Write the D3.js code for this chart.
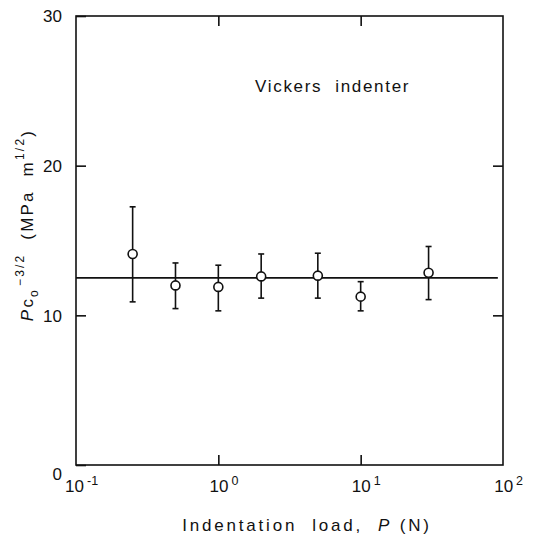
<!DOCTYPE html>
<html>
<head>
<meta charset="utf-8">
<script src="https://cdn.jsdelivr.net/npm/d3@7"></script>
<style>
  body { margin: 0; background: #fff; }
  svg { display: block; font-family: "Liberation Sans", Arial, sans-serif; }
  svg text { white-space: pre; }
</style>
</head>
<body>
<div id="chart"></div>
<script>
// data
const loads = [0.25, 0.5, 1, 2, 5, 10, 30];          // indentation load P (N)
const means = [14.1, 12.0, 11.9, 12.6, 12.65, 11.25, 12.85];
const upper = [17.25, 13.5, 13.35, 14.1, 14.15, 12.25, 14.6];
const lower = [10.9, 10.45, 10.3, 11.15, 11.15, 10.3, 11.05];
const fitLoads = [0.1, 92];
const fitValues = [12.5, 12.5];
const yTicks = [0, 10, 20, 30];
const xTicks = [0.1, 1, 10, 100];
const xExponents = ["-1", "0", "1", "2"];

const width = 541, height = 538;
const plotLeft = 76, plotRight = 503, plotTop = 16, plotBottom = 465;

const svg = d3.select("#chart").append("svg")
    .attr("width", width)
    .attr("height", height);

const x = d3.scaleLog().domain([0.1, 100]).range([plotLeft, plotRight]);
const y = d3.scaleLinear().domain([0, 30]).range([plotBottom, plotTop]);

// frame
svg.append("rect")
    .attr("x", plotLeft).attr("y", plotTop)
    .attr("width", plotRight - plotLeft).attr("height", plotBottom - plotTop)
    .attr("fill", "none").attr("stroke", "#111").attr("stroke-width", 1.6);

// left axis (ticks inward)
const yAxis = svg.append("g")
    .attr("transform", `translate(${plotLeft},0)`)
    .call(d3.axisLeft(y).tickValues(yTicks).tickSizeInner(-10).tickSizeOuter(0).tickPadding(14));
yAxis.select(".domain").remove();
yAxis.selectAll("line").attr("stroke", "#111").attr("stroke-width", 1.6);
yAxis.selectAll("text")
    .attr("font-size", 17).attr("fill", "#111")
    .attr("font-family", "Liberation Sans, Arial, sans-serif")
    .attr("dy", d => d === 0 ? "0.85em" : "0.35em");

// right axis
const yAxisR = svg.append("g")
    .attr("transform", `translate(${plotRight},0)`)
    .call(d3.axisRight(y).tickValues(yTicks.slice(1, 3)).tickSizeInner(-10).tickSizeOuter(0).tickFormat(""));
yAxisR.select(".domain").remove();
yAxisR.selectAll("line").attr("stroke", "#111").attr("stroke-width", 1.6);

// bottom axis
const xAxis = svg.append("g")
    .attr("transform", `translate(0,${plotBottom})`)
    .call(d3.axisBottom(x).tickValues(xTicks).tickSizeInner(-10).tickSizeOuter(0).tickPadding(15).tickFormat(""));
xAxis.select(".domain").remove();
xAxis.selectAll("line").attr("stroke", "#111").attr("stroke-width", 1.6)
    .attr("display", (d, i) => (i === 0 || i === xTicks.length - 1) ? "none" : null);
xAxis.selectAll("text").each(function(d, i) {
    const t = d3.select(this)
        .attr("font-size", 17).attr("fill", "#111")
        .attr("font-family", "Liberation Sans, Arial, sans-serif")
        .attr("dx", "0.3em");
    t.append("tspan").text("10");
    t.append("tspan").attr("dx", 3).attr("dy", -7).attr("font-size", 12.5).text(xExponents[i]);
});

// top axis
const xAxisT = svg.append("g")
    .attr("transform", `translate(0,${plotTop})`)
    .call(d3.axisTop(x).tickValues(xTicks.slice(1, 3)).tickSizeInner(-10).tickSizeOuter(0).tickFormat(""));
xAxisT.select(".domain").remove();
xAxisT.selectAll("line").attr("stroke", "#111").attr("stroke-width", 1.6);

// fitted line
const line = d3.line().x(d => x(d[0])).y(d => y(d[1]));
svg.append("path")
    .datum(fitLoads.map((v, i) => [v, fitValues[i]]))
    .attr("d", line)
    .attr("fill", "none").attr("stroke", "#111").attr("stroke-width", 1.8);

// error bars
const pts = loads.map((v, i) => ({ p: v, m: means[i], hi: upper[i], lo: lower[i] }));
const bars = svg.append("g").attr("stroke", "#111").attr("stroke-width", 1.6);
bars.selectAll("line.v").data(pts).join("line").attr("class", "v")
    .attr("x1", d => x(d.p)).attr("x2", d => x(d.p))
    .attr("y1", d => y(d.hi)).attr("y2", d => y(d.lo));
bars.selectAll("line.hi").data(pts).join("line").attr("class", "hi")
    .attr("x1", d => x(d.p) - 3).attr("x2", d => x(d.p) + 3)
    .attr("y1", d => y(d.hi)).attr("y2", d => y(d.hi));
bars.selectAll("line.lo").data(pts).join("line").attr("class", "lo")
    .attr("x1", d => x(d.p) - 3).attr("x2", d => x(d.p) + 3)
    .attr("y1", d => y(d.lo)).attr("y2", d => y(d.lo));

// markers
svg.append("g").selectAll("circle").data(pts).join("circle")
    .attr("cx", d => x(d.p)).attr("cy", d => y(d.m))
    .attr("r", 4.5)
    .attr("fill", "#fff").attr("stroke", "#111").attr("stroke-width", 1.6);

// annotation
svg.append("text")
    .attr("x", 255).attr("y", 92)
    .attr("font-size", 17).attr("fill", "#111")
    .attr("letter-spacing", 1.7)
    .text("Vickers  indenter");

// x title
const xt = svg.append("text")
    .attr("x", 307).attr("y", 531)
    .attr("text-anchor", "middle")
    .attr("font-size", 17).attr("fill", "#111")
    .attr("letter-spacing", 2.8);
xt.append("tspan").text("Indentation  load,  ");
xt.append("tspan").attr("font-style", "italic").text("P");
xt.append("tspan").text(" (N)");

// y title
const yt = svg.append("text")
    .attr("transform", "translate(33,225) rotate(-90)")
    .attr("text-anchor", "middle")
    .attr("font-size", 17).attr("fill", "#111")
    .attr("letter-spacing", 2.2);
yt.append("tspan").attr("font-style", "italic").text("P");
yt.append("tspan").text("c");
yt.append("tspan").attr("font-size", 12).attr("dy", 5).text("o");
yt.append("tspan").attr("font-size", 12).attr("dy", -14).attr("dx", 2).text("−3/2");
yt.append("tspan").attr("dy", 9).text("  (MPa  m");
yt.append("tspan").attr("font-size", 12).attr("dy", -9).text("1/2");
yt.append("tspan").attr("dy", 9).text(")");
</script>
</body>
</html>
